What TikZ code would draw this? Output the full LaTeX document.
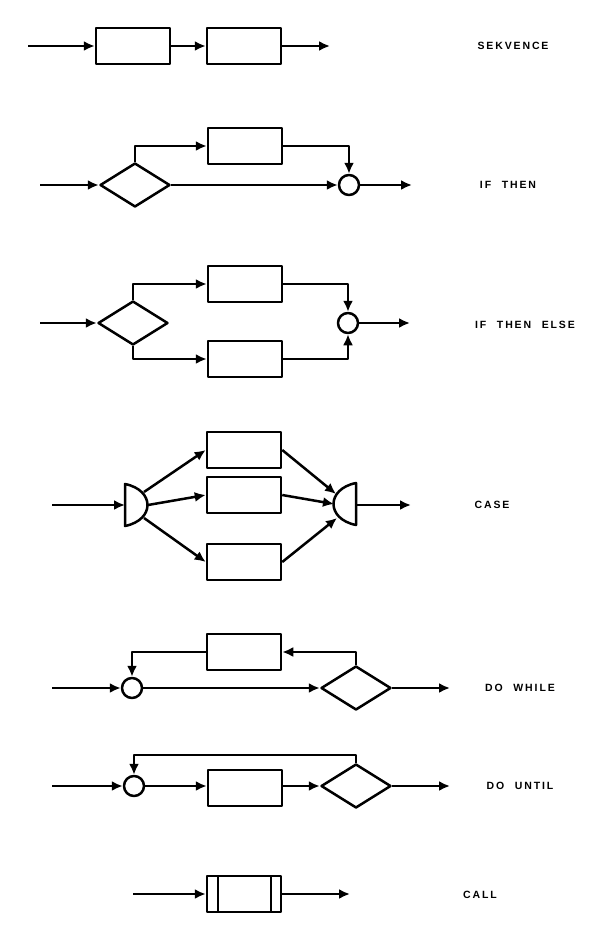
\documentclass[tikz,border=0pt]{standalone}
\usepackage{fontspec}
\setmainfont{Liberation Sans}[LetterSpace=18,WordSpace=2.2]
\usetikzlibrary{arrows.meta,shapes.geometric}
\begin{document}
\begin{tikzpicture}[x=1pt,y=-1pt,line width=2.5pt,line join=round,
  box/.style={draw,rectangle,minimum width=74pt,minimum height=36pt,inner sep=0pt},
  dia/.style={draw,diamond,minimum width=70pt,minimum height=44pt,inner sep=0pt,aspect=1.6},
  circ/.style={draw,circle,minimum size=20pt,inner sep=0pt},
  arr/.style={-{Latex[length=11pt,width=10pt]}},
  lab/.style={font=\bfseries\fontsize{10.5}{12}\selectfont,anchor=center}]
\useasboundingbox (0,0) rectangle (615,934);
% SEKVENCE
\coordinate (s0) at (28,46); \coordinate (s9) at (330,46);
\node[box] (s1) at (133,46) {}; \node[box] (s2) at (244,46) {};
\draw[arr] (s0) -- (s1); \draw[arr] (s1) -- (s2); \draw[arr] (s2) -- (s9);
\node[lab] (t1) at (513,46) {SEKVENCE};
% IF THEN
\coordinate (a0) at (40,185); \coordinate (a9) at (412,185);
\node[dia] (ad) at (135,185) {}; \node[box] (ab) at (245,146) {};
\node[circ] (ac) at (349,185) {};
\draw[arr] (a0) -- (ad); \draw[arr] (ad.north) |- (ab);
\draw[arr] (ab.east) -| (ac); \draw[arr] (ad.east) -- (ac);
\draw[arr] (ac) -- (a9);
\node[lab] (t2) at (508,185) {IF THEN};
% IF THEN ELSE
\coordinate (b0) at (40,323); \coordinate (b9) at (410,323);
\node[dia] (bd) at (133,323) {}; \node[box] (bb1) at (245,284) {}; \node[box] (bb2) at (245,359) {};
\node[circ] (bc) at (348,323) {};
\draw[arr] (b0) -- (bd); \draw[arr] (bd.north) |- (bb1); \draw[arr] (bd.south) |- (bb2);
\draw[arr] (bb1.east) -| (bc); \draw[arr] (bb2.east) -| (bc); \draw[arr] (bc) -- (b9);
\node[lab] (t3) at (525,325) {IF THEN ELSE};
% CASE
\coordinate (c0) at (52,505); \coordinate (c9) at (411,505);
\coordinate (cl) at (125,505); \coordinate (cr) at (356,505);
\draw (125,484) .. controls (155,490) and (155,520) .. (125,526) -- cycle;
\draw (356,483) .. controls (326,489) and (326,519) .. (356,525) -- cycle;
\node[box] (cb1) at (244,450) {}; \node[box] (cb2) at (244,495) {}; \node[box] (cb3) at (244,562) {};
\draw[arr] (c0) -- (cl);
\draw[arr] (144,492) -- (cb1.west); \draw[arr] (148,505) -- (cb2.west); \draw[arr] (144,518) -- (cb3.west);
\draw[arr] (cb1.east) -- (336,494); \draw[arr] (cb2.east) -- (334,504); \draw[arr] (cb3.east) -- (337,518);
\draw[arr] (cr) -- (c9);
\node[lab] (t4) at (492,505) {CASE};
% DO WHILE
\coordinate (d0) at (52,688); \coordinate (d9) at (450,688);
\node[circ] (dc) at (132,688) {}; \node[box] (db) at (244,652) {};
\node[dia] (dd) at (356,688) {};
\draw[arr] (d0) -- (dc); \draw[arr] (dc) -- (dd);
\draw[arr] (dd.north) |- (db.east); \draw[arr] (db.west) -| (dc.north);
\draw[arr] (dd.east) -- (d9);
\node[lab] (t5) at (520,688) {DO WHILE};
% DO UNTIL
\coordinate (e0) at (52,786); \coordinate (e9) at (450,786);
\node[circ] (ec) at (134,786) {}; \node[box] (eb) at (245,788) {};
\node[dia] (ed) at (356,786) {};
\coordinate (et) at (356,755);
\draw[arr] (e0) -- (ec); \draw[arr] (ec) -- (eb.west|-ec); \draw[arr] (eb.east|-ec) -- (ed);
\draw[arr] (ed.north) -- (et) -| (ec.north);
\draw[arr] (ed.east) -- (e9);
\node[lab] (t6) at (520,786) {DO UNTIL};
% CALL
\coordinate (f0) at (133,894); \coordinate (f9) at (350,894);
\node[box] (fb) at (244,894) {};
\draw (218,876) -- (218,912) (271,876) -- (271,912);
\draw[arr] (f0) -- (fb); \draw[arr] (fb) -- (f9);
\node[lab] (t7) at (480,895) {CALL};
\end{tikzpicture}
\end{document}
